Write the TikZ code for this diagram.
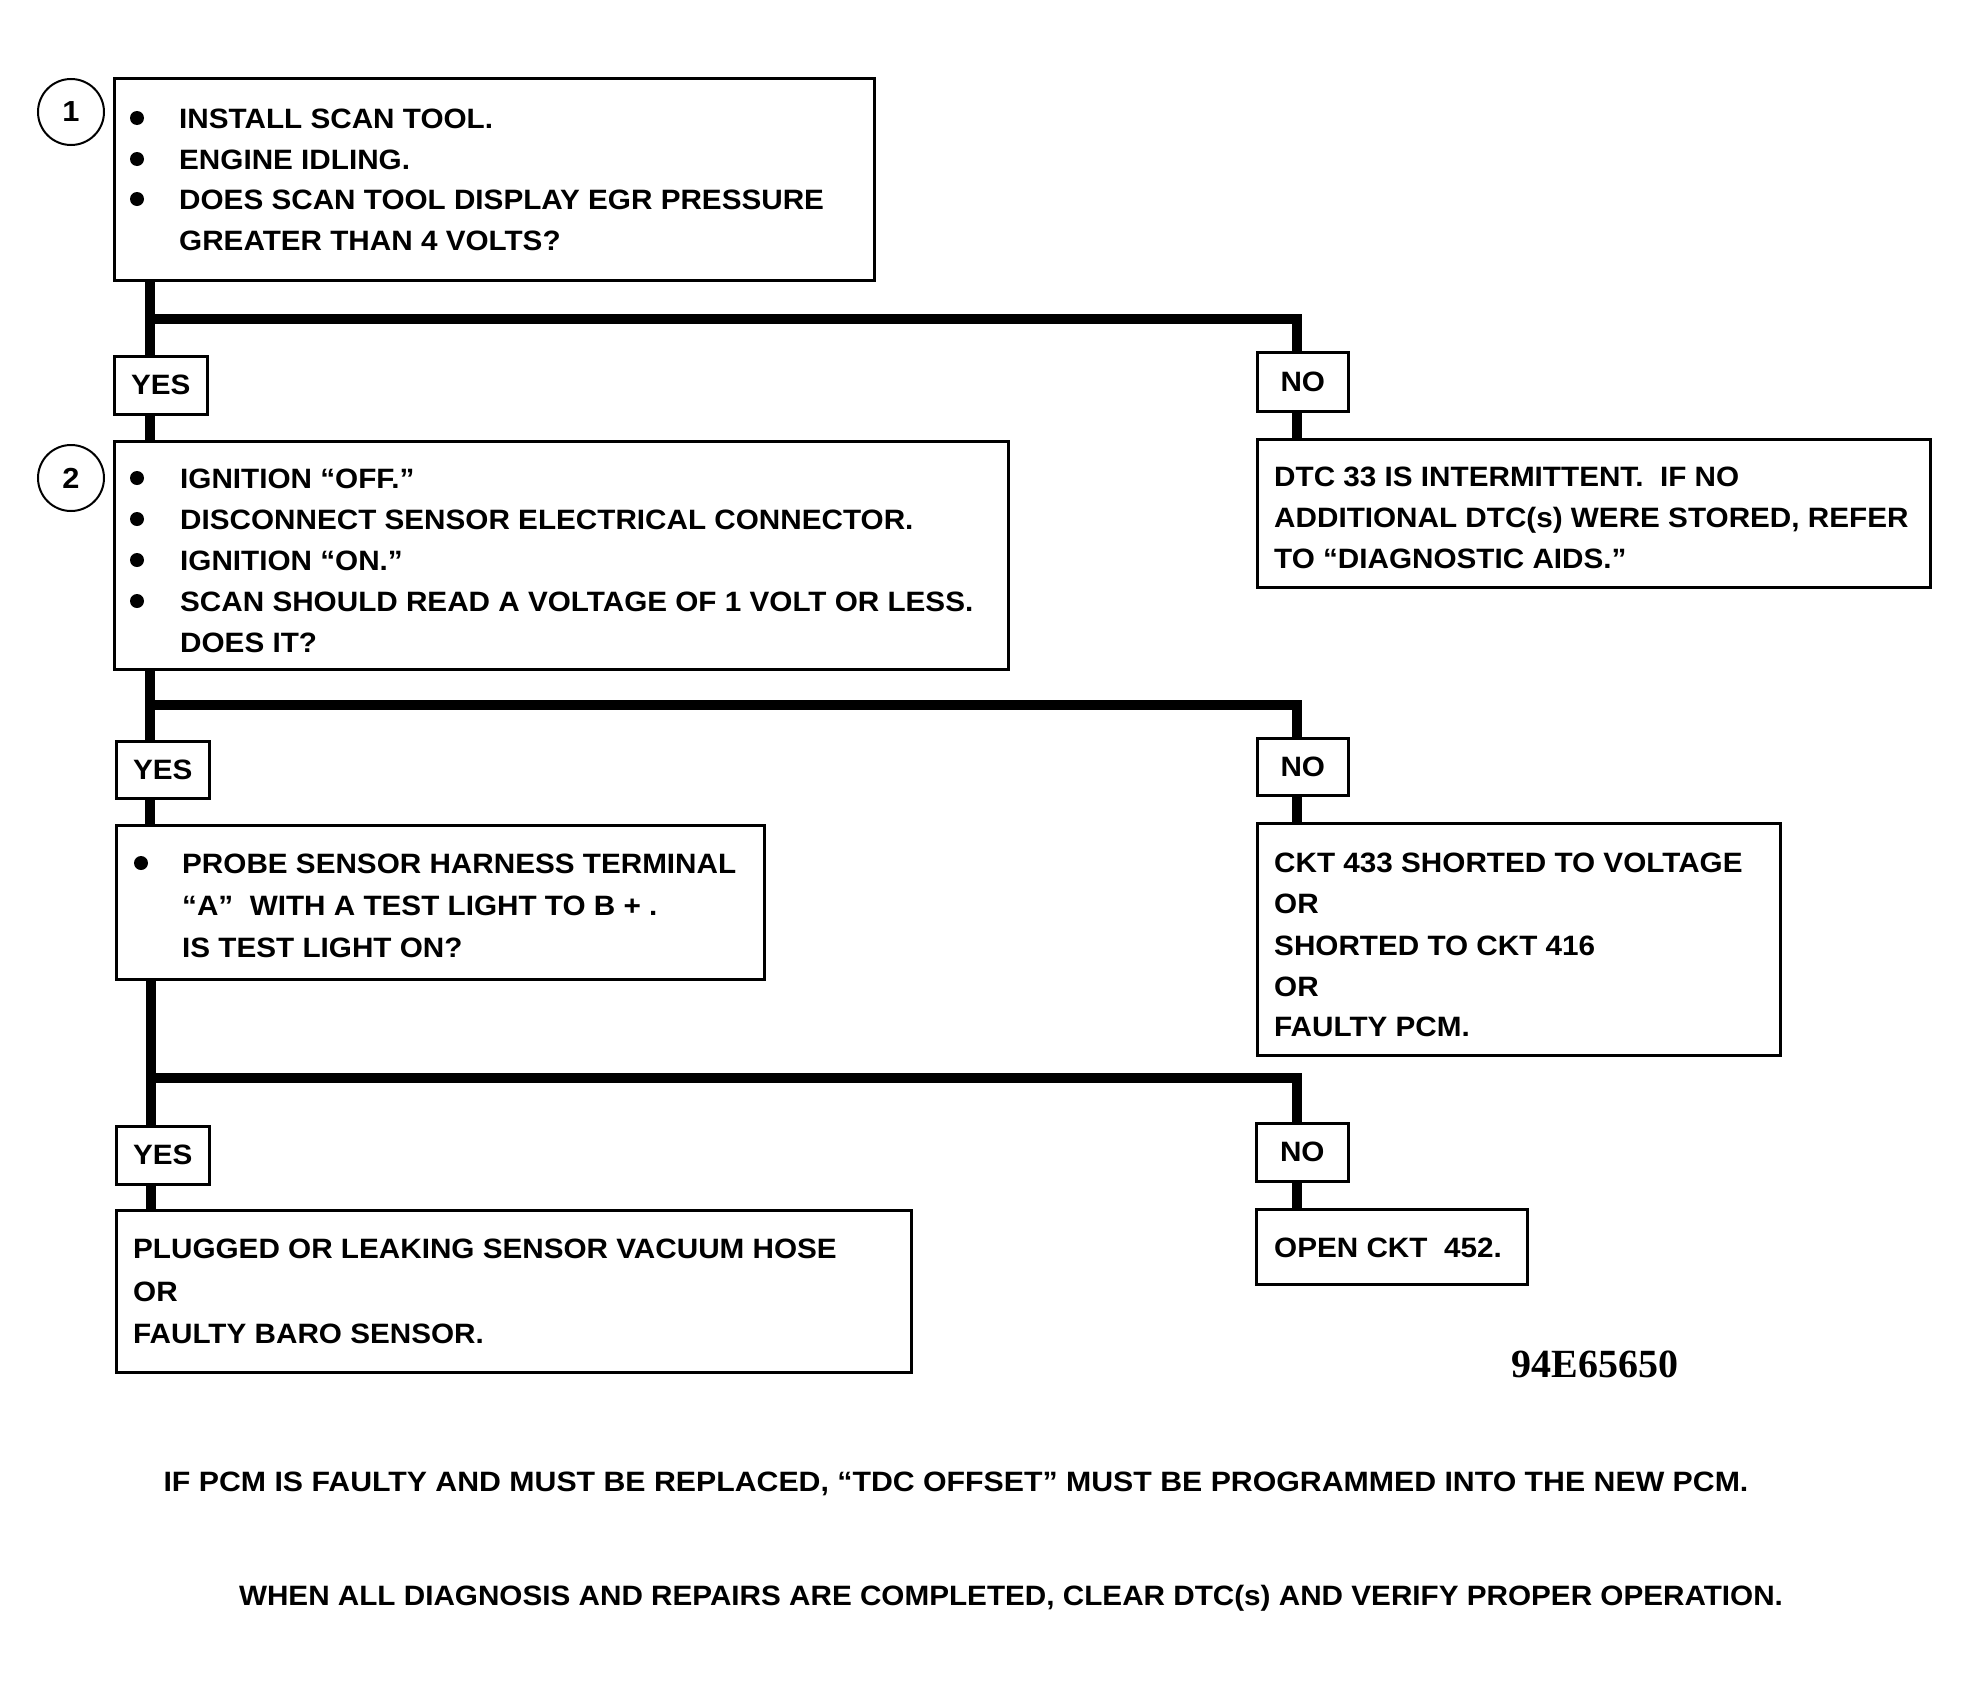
\documentclass[tikz,border=0pt]{standalone}
\usepackage{fontspec}
\usepackage{tikz}
\newfontfamily\chartfont{Liberation Sans}[FakeStretch=1.06]
\newfontfamily\codefont{Liberation Serif}

\tikzset{
  txt/.style={anchor=base west, inner sep=0pt, font=\chartfont\bfseries\fontsize{28}{34}\selectfont},
  box/.style={draw, line width=2.5pt, anchor=north west, inner sep=0pt},
  tag/.style={box, font=\chartfont\bfseries\fontsize{28}{34}\selectfont},
  numc/.style={circle, draw, line width=2pt, minimum size=66pt, inner sep=0pt, font=\chartfont\bfseries\fontsize{29}{34}\selectfont},
  flow/.style={line width=9.5pt, line join=miter},
}

\begin{document}
\begin{tikzpicture}[x=1pt, y=-1pt]
             \useasboundingbox[fill=white] (0,0) rectangle (1967,1681);

             % step 1
             \node[numc] (c1) at (71,112) {1};
             \node[box, minimum width=760pt, minimum height=202pt] (s1) at (113,77) {};
             \fill (137,118) circle (7);
             \fill (137,159) circle (7);
             \fill (137,199) circle (7);
             \node[txt] (s1a) at (179,128) {INSTALL SCAN TOOL.};
             \node[txt] (s1b) at (179,169) {ENGINE IDLING.};
             \node[txt] (s1c) at (179,209) {DOES SCAN TOOL DISPLAY EGR PRESSURE};
             \node[txt] (s1d) at (179,250) {GREATER THAN 4 VOLTS?};

             \node[tag, minimum width=93pt, minimum height=58pt] (yes1) at (113,355) {YES};
             \node[tag, minimum width=91pt, minimum height=59pt] (no1) at (1256,351) {NO};

             \node[box, minimum width=673pt, minimum height=148pt] (r1) at (1256,438) {};
             \node[txt] (r1a) at (1274,486) {DTC 33 IS INTERMITTENT.\ \ IF NO};
             \node[txt] (r1b) at (1274,527) {ADDITIONAL DTC(s) WERE STORED, REFER};
             \node[txt] (r1c) at (1274,568) {TO “DIAGNOSTIC AIDS.”};

             % step 2
             \node[numc] (c2) at (71,478) {2};
             \node[box, minimum width=894pt, minimum height=228pt] (s2) at (113,440) {};
             \fill (137,478) circle (7);
             \fill (137,519) circle (7);
             \fill (137,560) circle (7);
             \fill (137,601) circle (7);
             \node[txt] (s2a) at (180,488) {IGNITION “OFF.”};
             \node[txt] (s2b) at (180,529) {DISCONNECT SENSOR ELECTRICAL CONNECTOR.};
             \node[txt] (s2c) at (180,570) {IGNITION “ON.”};
             \node[txt] (s2d) at (180,611) {SCAN SHOULD READ A VOLTAGE OF 1 VOLT OR LESS.};
             \node[txt] (s2e) at (180,652) {DOES IT?};

             \node[tag, minimum width=93pt, minimum height=57pt] (yes2) at (115,740) {YES};
             \node[tag, minimum width=91pt, minimum height=57pt] (no2) at (1256,737) {NO};

             \node[box, minimum width=648pt, minimum height=154pt] (s3) at (115,824) {};
             \fill (141,863) circle (7);
             \node[txt] (s3a) at (182,873) {PROBE SENSOR HARNESS TERMINAL};
             \node[txt] (s3b) at (182,915) {“A”\ \ WITH A TEST LIGHT TO B + .};
             \node[txt] (s3c) at (182,957) {IS TEST LIGHT ON?};

             \node[box, minimum width=523pt, minimum height=232pt] (r2) at (1256,822) {};
             \node[txt] (r2a) at (1274,872) {CKT 433 SHORTED TO VOLTAGE};
             \node[txt] (r2b) at (1274,913) {OR};
             \node[txt] (r2c) at (1274,955) {SHORTED TO CKT 416};
             \node[txt] (r2d) at (1274,996) {OR};
             \node[txt] (r2e) at (1274,1036) {FAULTY PCM.};

             % step 3
             \node[tag, minimum width=93pt, minimum height=58pt] (yes3) at (115,1125) {YES};
             \node[tag, minimum width=92pt, minimum height=58pt] (no3) at (1255,1122) {NO};

             \node[box, minimum width=795pt, minimum height=162pt] (r4) at (115,1209) {};
             \node[txt] (r4a) at (133,1258) {PLUGGED OR LEAKING SENSOR VACUUM HOSE};
             \node[txt] (r4b) at (133,1301) {OR};
             \node[txt] (r4c) at (133,1343) {FAULTY BARO SENSOR.};

             \node[box, minimum width=271pt, minimum height=75pt] (r5) at (1255,1208) {};
             \node[txt] (r5a) at (1274,1257) {OPEN CKT\ \ 452.};

             \node[anchor=base, inner sep=0pt, font=\codefont\bfseries\fontsize{40}{40}\selectfont] (fig) at (1595,1377) {94E65650};

             \node[txt, anchor=base, xscale=1.02] (n1) at (956,1491) {IF PCM IS FAULTY AND MUST BE REPLACED, “TDC OFFSET” MUST BE PROGRAMMED INTO THE NEW PCM.};
             \node[txt, anchor=base] (n2) at (1011,1605) {WHEN ALL DIAGNOSIS AND REPAIRS ARE COMPLETED, CLEAR DTC(s) AND VERIFY PROPER OPERATION.};

             % branch lines
             \coordinate (j1) at (150,319);
             \coordinate (k1) at (1297,319);
             \coordinate (j2) at (150,705);
             \coordinate (k2) at (1297,705);
             \coordinate (j3) at (151,1078);
             \coordinate (k3) at (1297,1078);

             \draw[flow] (s1.south -| j1) -- (yes1.north -| j1);
             \draw[flow] (j1) -- (k1) -- (no1.north -| k1);
             \draw[flow] (yes1.south -| j1) -- (s2.north -| j1);
             \draw[flow] (no1.south -| k1) -- (r1.north -| k1);

             \draw[flow] (s2.south -| j2) -- (yes2.north -| j2);
             \draw[flow] (j2) -- (k2) -- (no2.north -| k2);
             \draw[flow] (yes2.south -| j2) -- (s3.north -| j2);
             \draw[flow] (no2.south -| k2) -- (r2.north -| k2);

             \draw[flow] (s3.south -| j3) -- (yes3.north -| j3);
             \draw[flow] (j3) -- (k3) -- (no3.north -| k3);
             \draw[flow] (yes3.south -| j3) -- (r4.north -| j3);
             \draw[flow] (no3.south -| k3) -- (r5.north -| k3);
\end{tikzpicture}
\end{document}
